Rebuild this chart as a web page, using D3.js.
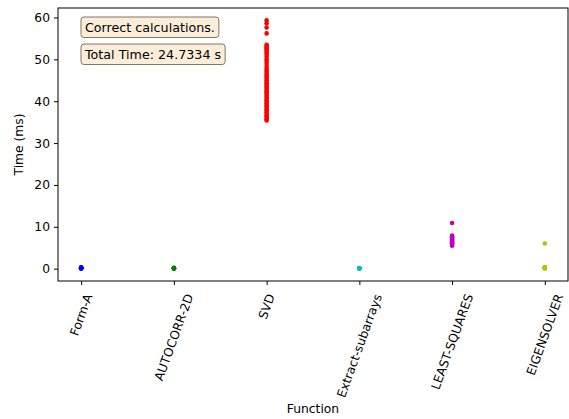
<!DOCTYPE html>
<html>
<head>
<meta charset="utf-8">
<script src="https://cdn.jsdelivr.net/npm/d3@7"></script>
<style>
  body { margin: 0; background: #fff; }
  text { font-family: "DejaVu Sans", sans-serif; }
</style>
</head>
<body>
<div id="chart"></div>
<script>
// categories and colours (matplotlib b, g, r, c, m, y)
const functions = ["Form-A", "AUTOCORR-2D", "SVD", "Extract-subarrays", "LEAST-SQUARES", "EIGENSOLVER"];
const colors = ["#0000ff", "#008000", "#ff0000", "#00bfbf", "#bf00bf", "#bfbf00"];

// timings in ms
const formA = [0.05, 0.08, 0.1, 0.12, 0.15, 0.18, 0.2, 0.25, 0.3];
const autocorr = [0.02, 0.05, 0.08, 0.1, 0.12, 0.15, 0.2];
const svd = [35.4, 35.7, 36.0, 36.3, 36.6, 37.0, 37.3, 37.7, 38.0, 38.4, 38.8, 39.1, 39.5,
  39.9, 40.2, 40.6, 41.0, 41.3, 41.7, 42.1, 42.4, 42.8, 43.2, 43.5, 43.9, 44.3, 44.6,
  45.0, 45.4, 45.8, 46.2, 46.6, 47.1, 47.6, 48.2, 48.9, 49.5, 50.0, 50.6, 51.1, 51.5,
  51.9, 52.3, 52.6, 52.9, 53.2, 53.5, 56.2, 57.6, 58.6, 59.3];
const extract = [0.02, 0.05, 0.08, 0.1, 0.12];
const leastSquares = [5.5, 5.7, 5.9, 6.1, 6.3, 6.5, 6.7, 6.9, 7.1, 7.3, 7.5, 7.7, 7.9, 10.9];
const eigensolver = [0.05, 0.1, 0.15, 0.2, 0.25, 0.3, 0.4, 6.0];
const series = [formA, autocorr, svd, extract, leastSquares, eigensolver];

const yTicks = [0, 10, 20, 30, 40, 50, 60];
const notes = ["Correct calculations.", "Total Time: 24.7334 s"];

const W = 569, H = 419;
const margin = {left: 58, top: 8, right: 1, bottom: 138};
const plotW = W - margin.left - margin.right;
const plotH = H - margin.top - margin.bottom;
const fs = 12.3;

const svg = d3.select("#chart").append("svg")
  .attr("width", W).attr("height", H);

const g = svg.append("g")
  .attr("transform", `translate(${margin.left},${margin.top})`);

// matplotlib-style 5% margins
const x = d3.scaleLinear().domain([-0.25, functions.length - 1 + 0.25]).range([0, plotW]);
const allVals = series.flat();
const yMin = d3.min(allVals), yMax = d3.max(allVals);
const pad = (yMax - yMin) * 0.05;
const y = d3.scaleLinear().domain([yMin - pad, yMax + pad]).range([plotH, 0]);

// points
const points = series.flatMap((vals, i) => vals.map(v => ({i, v})));
g.append("g").selectAll("circle")
  .data(points)
  .join("circle")
    .attr("cx", d => x(d.i))
    .attr("cy", d => y(d.v))
    .attr("r", 2.3)
    .attr("fill", d => colors[d.i]);

// y axis
const yAxis = g.append("g")
  .call(d3.axisLeft(y).tickValues(yTicks).tickSize(4).tickPadding(4).tickFormat(d3.format("d")));
yAxis.select(".domain").remove();
yAxis.selectAll("text").attr("font-size", fs).attr("fill", "#000").attr("font-family", "DejaVu Sans");
yAxis.selectAll("line").attr("stroke", "#000");

// x axis (ticks only, labels drawn manually with rotation)
const xAxis = g.append("g")
  .attr("transform", `translate(0,${plotH})`)
  .call(d3.axisBottom(x).tickValues(d3.range(functions.length)).tickSize(4).tickFormat(""));
xAxis.select(".domain").remove();
xAxis.selectAll("line").attr("stroke", "#000");

// rotated tick labels, centred under the tick like matplotlib rotation=70
const angle = 70 * Math.PI / 180;
const labels = g.append("g").attr("font-size", fs);
functions.forEach((name, i) => {
  const t = labels.append("text")
    .attr("text-anchor", "middle")
    .attr("dy", "0.35em")
    .attr("fill", "#000")
    .text(name);
  const L = t.node().getComputedTextLength();
  const h = fs * 1.15;
  const halfH = (L / 2) * Math.sin(angle) + (h / 2) * Math.cos(angle);
  const cx = x(i), cy = plotH + 4 + 7 + halfH;
  t.attr("transform", `translate(${cx},${cy}) rotate(-70)`);
});

// frame
g.append("rect")
  .attr("width", plotW).attr("height", plotH)
  .attr("fill", "none").attr("stroke", "#000").attr("stroke-width", 1);

// axis titles
g.append("text")
  .attr("x", plotW / 2).attr("y", 405)
  .attr("text-anchor", "middle").attr("font-size", fs)
  .text("Function");
g.append("text")
  .attr("transform", `translate(${-35},${plotH / 2}) rotate(-90)`)
  .attr("text-anchor", "middle").attr("font-size", fs)
  .text("Time (ms)");

// annotation boxes
notes.forEach((txt, k) => {
  const bx = 23, by = 9 + k * 27;
  const box = g.append("g");
  const r = box.append("rect");
  const t = box.append("text")
    .attr("x", bx + 4).attr("y", by + 14.5)
    .attr("font-size", 12.7)
    .text(txt);
  const tw = t.node().getComputedTextLength();
  r.attr("x", bx).attr("y", by)
    .attr("width", tw + 8).attr("height", 20.5)
    .attr("rx", 3)
    .attr("fill", "#faeed9")
    .attr("stroke", "#7f7766");
});
</script>
</body>
</html>
